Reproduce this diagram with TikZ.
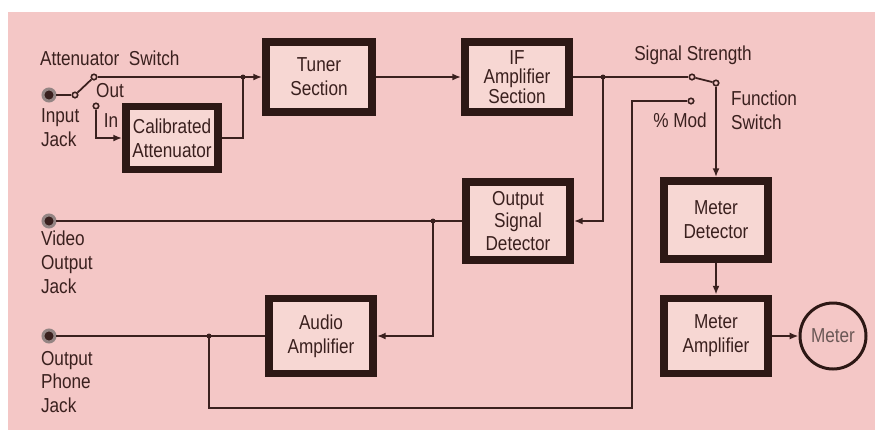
\documentclass[tikz,border=0pt]{standalone}
\usepackage{fontspec}
\setmainfont{Liberation Sans}[FakeStretch=0.85]
\usetikzlibrary{arrows.meta, positioning}

\definecolor{paper}{RGB}{244,199,198}
\definecolor{boxfill}{RGB}{247,215,211}
\definecolor{ink}{RGB}{58,32,30}
\definecolor{frame}{RGB}{45,24,21}
\newcommand\blockfont{\fontsize{11.5}{13.6}\selectfont}

\tikzset{
  block/.style={draw=frame, line width=4.5pt, fill=boxfill, minimum width=2.08cm,
    minimum height=1.4cm, align=center, text=ink, font=\blockfont, inner sep=1pt},
  wire/.style={draw=ink, line width=1pt},
  feed/.style={wire, -{Latex[length=5pt,width=4pt]}},
  contact/.style={circle, draw=ink, line width=0.9pt, fill=paper, inner sep=0pt,
    minimum size=0.11cm},
  jack/.style={circle, draw=ink!55, line width=1.7pt, fill=ink, inner sep=0pt,
    minimum size=0.24cm},
  lbl/.style={text=ink, font=\blockfont, inner sep=1pt, align=left},
  dot/.style={fill=ink}
}

\begin{document}
\begin{tikzpicture}[x=0.02cm, y=-0.02cm]
    % Page
    \useasboundingbox (0,0) rectangle (882,441);
    \fill[white] (0,0) rectangle (882,441);
    \fill[paper] (8,12) rectangle (875,430);
    % Blocks
    \node[block, minimum width=2.12cm] (tuner) at (319,77) {Tuner\\Section};
    \node[block, font=\fontsize{11.5}{11.3}\selectfont] (ifamp) at (517,77) {IF\\Amplifier\\Section};
    \node[block, minimum width=1.84cm, minimum height=1.26cm] (atten) at (172,138) {Calibrated\\Attenuator};
    \node[block, minimum height=1.56cm, font=\fontsize{11.5}{13}\selectfont] (osd) at (518,221) {Output\\Signal\\Detector};
    \node[block, minimum height=1.56cm] (mdet) at (716,220) {Meter\\Detector};
    \node[block, minimum height=1.5cm] (mamp) at (716,336) {Meter\\Amplifier};
    \node[block, minimum height=1.5cm] (audio) at (321,336) {Audio\\Amplifier};
    \node[circle, draw=frame, line width=1.7pt, minimum size=1.32cm, text=ink!75,
        font=\blockfont] (meter) at (833,336) {Meter};
    % Jacks
    \node[jack] (injack) at (49,95) {};
    \node[jack] (vidjack) at (49,221) {};
    \node[jack] (phonejack) at (49,336) {};
    % Attenuator switch
    \node[contact] (pivA) at (75,95) {};
    \node[contact] (outA) at (94,77) {};
    \node[contact] (inA) at (96,106) {};
    \coordinate (jA) at (243,77);
    \draw[wire] (injack) -- (pivA);
    \draw[wire] (pivA) -- (outA);
    \draw[feed] (outA) -- (tuner.west);
    \draw[feed] (inA) |- (atten.west);
    \draw[wire] (atten.east) -| (jA);
    \fill[dot] (jA) circle (2.5);
    % Tuner to IF
    \draw[feed] (tuner) -- (ifamp);
    % Function switch
    \node[contact] (ssB) at (692,77) {};
    \node[contact] (pivB) at (716,83) {};
    \node[contact] (modB) at (691,101) {};
    \coordinate (jB) at (603,77);
    \draw[wire] (ifamp.east) -- (ssB);
    \draw[wire] (ssB) -- (pivB);
    \draw[feed] (pivB) -- (mdet.north);
    \draw[feed] (jB) |- (osd.east);
    \fill[dot] (jB) circle (2.5);
    % Output detector and audio
    \coordinate (jC) at (433,221);
    \coordinate (jD) at (209,336);
    \coordinate (modturn) at (632,408);
    \draw[wire] (osd.west) -- (vidjack);
    \draw[feed] (jC) |- (audio.east);
    \fill[dot] (jC) circle (2.5);
    \draw[wire] (audio.west) -- (phonejack);
    \draw[wire] (modB) -| (modturn) -| (jD);
    \fill[dot] (jD) circle (2.5);
    % Meter chain
    \draw[feed] (mdet) -- (mamp);
    \draw[feed] (mamp) -- (meter);
    % Labels
    \node[lbl, anchor=west] at (38,58) {Attenuator\ \ Switch};
    \node[lbl] at (110,91) {Out};
    \node[lbl] at (111,121) {In};
    \node[lbl, anchor=west] at (39,128) {Input\\Jack};
    \node[lbl, anchor=west] at (39,262) {Video\\Output\\Jack};
    \node[lbl, anchor=west] at (39,382) {Output\\Phone\\Jack};
    \node[lbl] at (693,55) {Signal Strength};
    \node[lbl, anchor=west] at (729,110) {Function\\Switch};
    \node[lbl] at (680,120) {\%~Mod};
\end{tikzpicture}
\end{document}
